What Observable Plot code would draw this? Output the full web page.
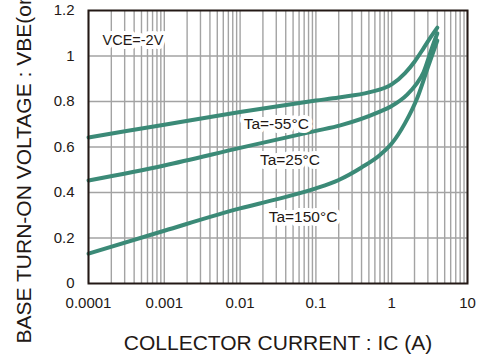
<!DOCTYPE html>
<html>
<head>
<meta charset="utf-8">
<script src="https://cdn.jsdelivr.net/npm/d3@7"></script>
<script src="https://cdn.jsdelivr.net/npm/@observablehq/plot@0.6"></script>
<style>
  html, body { margin: 0; padding: 0; background: #fff; }
  #chart { width: 477px; height: 359px; overflow: hidden; }
</style>
</head>
<body>
<div id="chart"></div>
<script>
// ---- Data ----
const seriesNames = ["Ta=-55°C", "Ta=25°C", "Ta=150°C"];

const icM55  = [0.0001, 0.001, 0.01, 0.1, 0.2, 0.5, 1.0, 1.5, 2.0, 2.64, 3.3, 4.0];
const vbeM55 = [0.642, 0.698, 0.754, 0.804, 0.818, 0.84, 0.875, 0.925, 0.975, 1.035, 1.085, 1.125];

const ic25  = [0.0001, 0.001, 0.01, 0.1, 0.21, 0.66, 1.0, 1.6, 2.1, 2.64, 3.2, 3.6, 4.0];
const vbe25 = [0.453, 0.519, 0.596, 0.671, 0.695, 0.752, 0.78, 0.83, 0.875, 0.93, 1.01, 1.06, 1.099];

const ic150  = [0.0001, 0.001, 0.01, 0.03, 0.1, 0.2, 0.4, 0.7, 1.0, 1.5, 2.2, 3.0, 4.0];
const vbe150 = [0.131, 0.232, 0.33, 0.37, 0.418, 0.455, 0.51, 0.565, 0.615, 0.705, 0.82, 0.95, 1.068];

// Axis ticks & labels
const xTicks = [0.0001, 0.001, 0.01, 0.1, 1, 10];
const xTickLabels = ["0.0001", "0.001", "0.01", "0.1", "1", "10"];
const yTicks = [0, 0.2, 0.4, 0.6, 0.8, 1.0, 1.2];
const yTickLabels = ["0", "0.2", "0.4", "0.6", "0.8", "1", "1.2"];

// Annotations
const labelText = ["VCE=-2V", "Ta=-55°C", "Ta=25°C", "Ta=150°C"];
const labelX = [0.000153, 0.030, 0.0455, 0.0676];
const labelY = [1.068, 0.701, 0.541, 0.29];
const labelAnchor = ["start", "middle", "middle", "middle"];

const xTitle = "COLLECTOR CURRENT : IC (A)";
const yTitle = "BASE TURN-ON VOLTAGE : VBE(on) (V)";

// ---- Build tables ----
const curves = [];
[[icM55, vbeM55], [ic25, vbe25], [ic150, vbe150]].forEach(([xs, ys], i) => {
  xs.forEach((x, j) => curves.push({series: seriesNames[i], ic: x, vbe: ys[j]}));
});
const labels = labelText.map((t, i) => ({text: t, x: labelX[i], y: labelY[i], anchor: labelAnchor[i]}));

const xDomain = [0.0001, 10];
const minorX = d3.scaleLog().domain(xDomain).ticks(); // 1..9 per decade
const gridY = [0.2, 0.4, 0.6, 0.8, 1.0];

const ink = "#231815";
const teal = "#3b8a77";
const font = "'Liberation Sans', Arial, sans-serif";

const chart = Plot.plot({
  width: 477,
  height: 359,
  marginLeft: 88,
  marginRight: 10,
  marginTop: 10,
  marginBottom: 76,
  style: {fontFamily: font, fontSize: "15px", color: ink, background: "#fff", overflow: "hidden"},
  x: {type: "log", domain: xDomain},
  y: {domain: [0, 1.2]},
  marks: [
    Plot.ruleX(minorX, {stroke: "#a3a3a3", strokeWidth: 1.4}),
    Plot.ruleY(gridY, {stroke: "#a3a3a3", strokeWidth: 1.4}),
    Plot.axisX(xTicks, {tickSize: 0, tickPadding: 14, fontSize: 15,
      tickFormat: (d) => xTickLabels[xTicks.indexOf(d)], label: null}),
    Plot.axisY(yTicks, {tickSize: 0, tickPadding: 14, fontSize: 15,
      tickFormat: (d) => yTickLabels[yTicks.indexOf(d)], label: null}),
    Plot.line(curves, {x: "ic", y: "vbe", z: "series", stroke: teal, strokeWidth: 4, curve: "monotone-x"}),
    Plot.text(labels.filter(d => d.anchor === "start"), {x: "x", y: "y", text: "text", textAnchor: "start",
      fontSize: 14.5, fill: ink, stroke: "white", strokeWidth: 8}),
    Plot.text(labels.filter(d => d.anchor === "middle"), {x: "x", y: "y", text: "text", textAnchor: "middle",
      fontSize: 15.5, fill: ink, stroke: "white", strokeWidth: 8}),
    Plot.frame({stroke: ink, strokeWidth: 2}),
    Plot.text([xTitle], {frameAnchor: "bottom", dy: 60, fontSize: 21, fill: ink, lineAnchor: "middle"}),
    Plot.text([yTitle], {frameAnchor: "bottom-left", dx: -64, dy: 60, rotate: -90, textAnchor: "start",
      lineAnchor: "middle", fontSize: 21, fill: ink})
  ]
});
document.getElementById("chart").appendChild(chart);
</script>
</body>
</html>
